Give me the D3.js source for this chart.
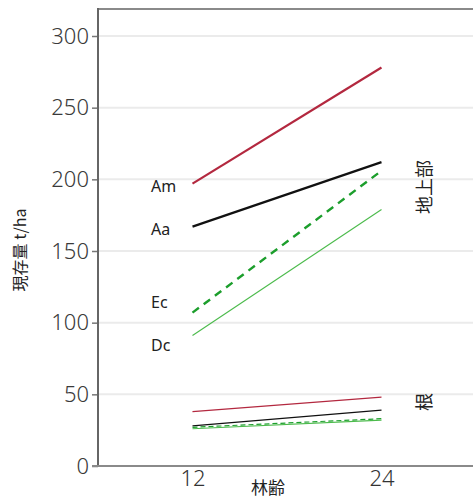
<!DOCTYPE html>
<html><head><meta charset="utf-8">
<script src="https://cdn.jsdelivr.net/npm/d3@7"></script>
<style>
body{margin:0;background:#fff;}
svg{display:block;font-family:"Noto Sans CJK JP","Noto Sans",sans-serif;}
</style></head>
<body><svg id="c" width="473" height="499"></svg>
<script>
const ages = [12, 24];
const yTicks = [0, 50, 100, 150, 200, 250, 300];
const seriesNames = ["Am", "Aa", "Ec", "Dc"];
const aboveValues = [[197, 278], [167, 212], [107, 206], [91, 179]];
const rootValues = [[38, 48], [28, 39], [27, 33], [26, 32]];
const seriesColors = ["#b3283f", "#111111", "#1c9e2c", "#4cbb4c"];
const aboveWidths = [2.2, 2.2, 2.4, 1.2];
const seriesDash = [null, null, "8,6", null];
const xLabel = "林齢";
const yLabel = "現存量 t/ha";
const partLabels = ["地上部", "根"];

const svg = d3.select("#c");
const x = d3.scaleLinear().domain([6, 30]).range([98, 476]);
const y = d3.scaleLinear().domain([0, 300]).range([466, 36]);

// grid
svg.append("g").selectAll("line").data(yTicks.filter(d => d > 0)).join("line")
  .attr("x1", 99).attr("x2", 473).attr("y1", d => y(d)).attr("y2", d => y(d))
  .attr("stroke", "#ebebeb").attr("stroke-width", 2);

// top border
svg.append("line").attr("x1", 98).attr("x2", 473).attr("y1", 9).attr("y2", 9)
  .attr("stroke", "#8a8a8a").attr("stroke-width", 2);

// y axis
const ya = svg.append("g").attr("transform", "translate(98,0)")
  .call(d3.axisLeft(y).tickValues(yTicks).tickSize(6).tickPadding(3));
ya.select(".domain").remove();
ya.selectAll(".tick line").attr("stroke", "#777").attr("stroke-width", 1.5);
ya.selectAll(".tick text").attr("fill", "#3a3a3a").attr("font-size", 22)
  .attr("font-family", "'Noto Sans',sans-serif").attr("font-weight", 300);
svg.append("line").attr("x1", 98).attr("x2", 98).attr("y1", 8).attr("y2", 467)
  .attr("stroke", "#666").attr("stroke-width", 2);

// x axis
const xa = svg.append("g").attr("transform", "translate(0,466)")
  .call(d3.axisBottom(x).tickValues(ages).tickSize(0).tickPadding(4));
xa.select(".domain").remove();
xa.selectAll(".tick text").attr("fill", "#333").attr("font-size", 22)
  .attr("font-family", "'Noto Sans',sans-serif").attr("font-weight", 300);
svg.append("line").attr("x1", 92).attr("x2", 473).attr("y1", 466).attr("y2", 466)
  .attr("stroke", "#8a8a8a").attr("stroke-width", 2);

// lines
const line = d3.line().x((d, i) => x(ages[i])).y(d => y(d));
seriesNames.forEach((name, k) => {
  svg.append("path").attr("d", line(aboveValues[k])).attr("fill", "none")
    .attr("stroke", seriesColors[k]).attr("stroke-width", aboveWidths[k])
    .attr("stroke-dasharray", seriesDash[k]);
  svg.append("path").attr("d", line(rootValues[k])).attr("fill", "none")
    .attr("stroke", seriesColors[k]).attr("stroke-width", 1.2)
    .attr("stroke-dasharray", seriesDash[k] ? "5,3" : null);
});

// series labels
const labelDy = [3, 3, -10, 10];
svg.append("g").selectAll("text").data(seriesNames).join("text")
  .attr("x", 151).attr("y", (d, i) => y(aboveValues[i][0]) + labelDy[i] + 5)
  .attr("font-size", 16).attr("fill", "#222")
  .attr("font-family", "'Noto Sans',sans-serif")
  .text(d => d);

// axis titles
svg.append("text").attr("x", 268).attr("y", 494).attr("text-anchor", "middle")
  .attr("font-size", 17).attr("fill", "#222").text(xLabel);
svg.append("text").attr("transform", "translate(26,250) rotate(-90)")
  .attr("text-anchor", "middle").attr("font-size", 16).attr("fill", "#222").text(yLabel);
svg.append("text").attr("transform", "translate(431,187) rotate(-90)")
  .attr("text-anchor", "middle").attr("font-size", 18).attr("fill", "#222").text(partLabels[0]);
svg.append("text").attr("transform", "translate(431,402) rotate(-90)")
  .attr("text-anchor", "middle").attr("font-size", 18).attr("fill", "#222").text(partLabels[1]);
</script></body></html>
